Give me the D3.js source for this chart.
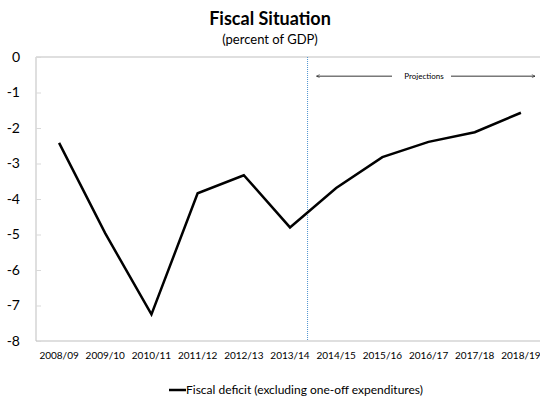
<!DOCTYPE html>
<html>
<head>
<meta charset="utf-8">
<script src="https://cdn.jsdelivr.net/npm/d3@7"></script>
<style>
body { margin: 0; background: #fff; }
text { font-family: Lato, "Open Sans", sans-serif; fill: #000; }
</style>
</head>
<body>
<div id="chart"></div>
<script>
// chart data
var years = ["2008/09", "2009/10", "2010/11", "2011/12", "2012/13", "2013/14",
             "2014/15", "2015/16", "2016/17", "2017/18", "2018/19"];
var deficit = [-2.42, -4.97, -7.25, -3.84, -3.33, -4.8, -3.69, -2.82, -2.39, -2.12, -1.57];
var yTicks = [0, -1, -2, -3, -4, -5, -6, -7, -8];

var width = 540, height = 402;
var margin = {top: 57, left: 36, right: -4, bottom: 61};

var svg = d3.select("#chart").append("svg")
  .attr("width", width)
  .attr("height", height);

var x = d3.scaleBand()
  .domain(years)
  .range([margin.left, width - margin.right]);

var y = d3.scaleLinear()
  .domain([-8, 0])
  .range([height - margin.bottom, margin.top]);

// plot area border
svg.append("path")
  .attr("d", "M" + (width) + "," + y(0) + "H" + x.range()[0] + "V" + y(-8) + "H" + width)
  .attr("fill", "none")
  .attr("stroke", "#bfbfbf")
  .attr("stroke-width", 1);

// y axis ticks + labels
var yAxis = svg.append("g")
  .attr("transform", "translate(" + margin.left + ",0)");
yAxis.selectAll("line").data(yTicks).enter().append("line")
  .attr("x1", 0).attr("x2", 5)
  .attr("y1", function(d) { return y(d) + 0.5; })
  .attr("y2", function(d) { return y(d) + 0.5; })
  .attr("stroke", "#d9d9d9");
yAxis.selectAll("text").data(yTicks).enter().append("text")
  .attr("x", -16)
  .attr("y", function(d) { return y(d); })
  .attr("dy", "0.35em")
  .attr("text-anchor", "end")
  .style("font-size", "14px")
  .text(function(d) { return d; });

// x labels
svg.append("g").selectAll("text").data(years).enter().append("text")
  .attr("x", function(d) { return x(d) + x.bandwidth() / 2; })
  .attr("y", y(-8) + 18)
  .attr("text-anchor", "middle")
  .style("font-size", "10px")
  .text(function(d) { return d; });

// projections divider
var splitX = x("2013/14") + x.bandwidth() * 0.88;
svg.append("line")
  .attr("x1", splitX).attr("x2", splitX)
  .attr("y1", y(0)).attr("y2", y(-8))
  .attr("stroke", "#4f93d0")
  .attr("stroke-width", 1)
  .attr("stroke-dasharray", "1,1");

// projections arrow
var defs = svg.append("defs");
defs.append("marker")
  .attr("id", "arr")
  .attr("viewBox", "0 0 10 10")
  .attr("refX", 9).attr("refY", 5)
  .attr("markerWidth", 5).attr("markerHeight", 5)
  .attr("orient", "auto-start-reverse")
  .append("path")
  .attr("d", "M1,1L9,5L1,9")
  .attr("fill", "none")
  .attr("stroke", "#000")
  .attr("stroke-width", 1.2);

var arrowY = y(-0.54);
svg.append("line")
  .attr("x1", splitX + 9).attr("x2", 392)
  .attr("y1", arrowY).attr("y2", arrowY)
  .attr("stroke", "#000").attr("stroke-width", 0.8)
  .attr("marker-start", "url(#arr)");
svg.append("line")
  .attr("x1", 451).attr("x2", 535)
  .attr("y1", arrowY).attr("y2", arrowY)
  .attr("stroke", "#000").attr("stroke-width", 0.8)
  .attr("marker-end", "url(#arr)");
svg.append("text")
  .attr("x", 424).attr("y", arrowY)
  .attr("dy", "0.35em")
  .attr("text-anchor", "middle")
  .style("font-size", "8px")
  .text("Projections");

// the line
var line = d3.line()
  .x(function(d, i) { return x(years[i]) + x.bandwidth() / 2; })
  .y(function(d) { return y(d); });

svg.append("path")
  .datum(deficit)
  .attr("d", line)
  .attr("fill", "none")
  .attr("stroke", "#000")
  .attr("stroke-width", 2.5)
  .attr("stroke-linejoin", "miter");

// titles
svg.append("text")
  .attr("x", 270).attr("y", 25)
  .attr("text-anchor", "middle")
  .style("font-size", "18px")
  .style("font-weight", "bold")
  .text("Fiscal Situation");
svg.append("text")
  .attr("x", 270).attr("y", 44)
  .attr("text-anchor", "middle")
  .style("font-size", "13px")
  .text("(percent of GDP)");

// legend
var lg = svg.append("g").attr("transform", "translate(169,390)");
lg.append("line")
  .attr("x1", 0).attr("x2", 17)
  .attr("y1", 0).attr("y2", 0)
  .attr("stroke", "#000").attr("stroke-width", 2.5);
lg.append("text")
  .attr("x", 17).attr("y", 0)
  .attr("dy", "0.35em")
  .style("font-size", "12px")
  .text("Fiscal deficit (excluding one-off expenditures)");
</script>
</body>
</html>
